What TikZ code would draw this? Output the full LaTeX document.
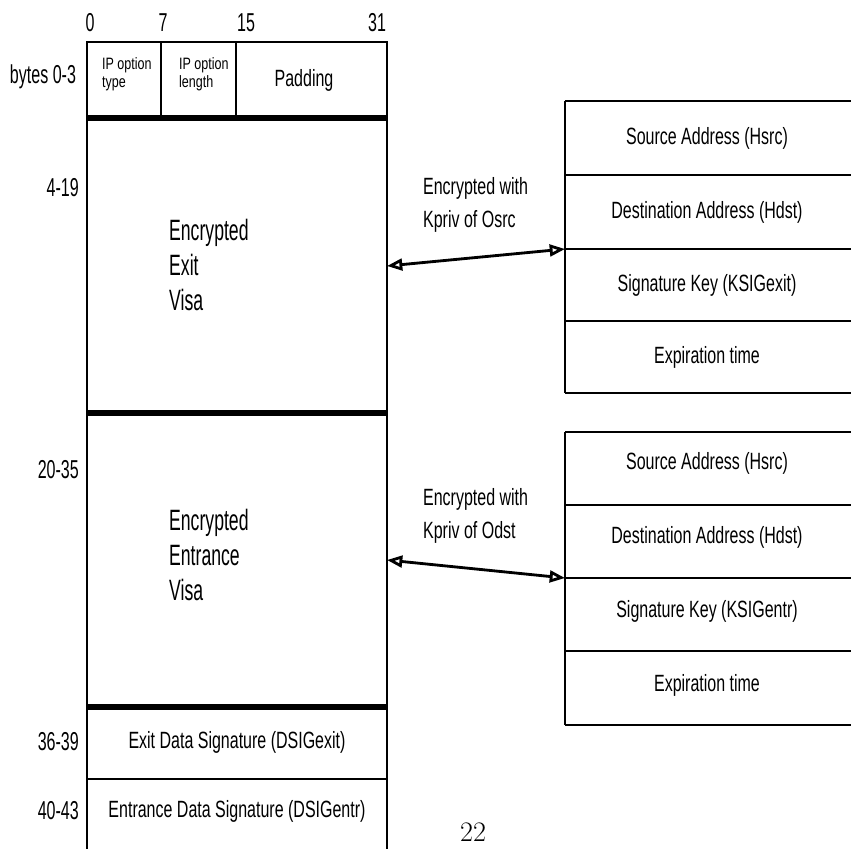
\documentclass[tikz,border=0pt]{standalone}
\usepackage{fontspec}
\newfontfamily\narrowsf{Liberation Sans}[FakeStretch=0.68]
\newfontfamily\narrowersf{Liberation Sans}[FakeStretch=0.6]
\newfontfamily\numsf{Liberation Sans}[FakeStretch=0.62]
\newfontfamily\smallsf{Liberation Sans}[FakeStretch=0.76]
\usetikzlibrary{arrows.meta}

\tikzset{
  thinline/.style={line width=1.3pt},
  midline/.style={line width=2.4pt},
  heavyline/.style={line width=5.5pt},
  lbl/.style={font=\narrowsf\fontsize{20}{24}\selectfont},
  numlbl/.style={font=\numsf\fontsize{22}{24}\selectfont},
  smalllbl/.style={font=\smallsf\fontsize{14}{15.5}\selectfont,align=left},
  biglbl/.style={font=\narrowersf\fontsize{25}{30}\selectfont,align=left},
  keylbl/.style={font=\narrowsf\fontsize{20}{28}\selectfont,align=left},
}

\begin{document}
\begin{tikzpicture}[x=0.85pt,y=-0.85pt,>={Triangle[open,length=13pt,width=10pt]}]
  \useasboundingbox (0,0) rectangle (851,849);

  % 左侧报文格式
  \coordinate (L0) at (87,42);
  \coordinate (R0) at (387,42);
  \coordinate (L1) at (87,118);
  \coordinate (R1) at (387,118);
  \coordinate (L2) at (87,413);
  \coordinate (R2) at (387,413);
  \coordinate (L3) at (87,707);
  \coordinate (R3) at (387,707);
  \coordinate (L4) at (87,779);
  \coordinate (R4) at (387,779);
  \coordinate (L5) at (87,849);
  \coordinate (R5) at (387,849);

  % 首行
  \draw[thinline] (L1) -- (L0) -- (R0) -- (R1);
  \draw[thinline] (161,42) -- (161,118);
  \draw[thinline] (236,42) -- (236,118);

  % 两个签证块
  \draw[midline] (L1) -- (L3);
  \draw[midline] (R1) -- (R3);
  \draw[heavyline] (L1) -- (R1);
  \draw[heavyline] (L2) -- (R2);
  \draw[heavyline] (L3) -- (R3);

  % 数据签名行
  \draw[thinline] (L3) -- (L5);
  \draw[thinline] (R3) -- (R5);
  \draw[midline] (L4) -- (R4);

  % 右侧签证内容
  \foreach \y in {101,175,249,321,393,432,505,578,651,725}
    \draw[midline] (565,\y) -- (860,\y);
  \draw[thinline] (565,101) -- (565,393);
  \draw[thinline] (565,432) -- (565,725);
  \coordinate (X1) at (565,249);
  \coordinate (X2) at (565,578);
  \coordinate (V1) at (387,266);
  \coordinate (V2) at (387,560);

  % 箭头
  \draw[midline,<->] (V1) -- (X1);
  \draw[midline,<->] (V2) -- (X2);

  % 位号
  \node[numlbl] (b0) at (90,23) {0};
  \node[numlbl] (b7) at (163,23) {7};
  \node[numlbl] (b15) at (246,23) {15};
  \node[numlbl] (b31) at (377,23) {31};

  % 行号
  \node[numlbl] (r0) at (43,77) {bytes 0-3};
  \node[numlbl,anchor=east] (r1) at (83,188) {4-19};
  \node[numlbl,anchor=east] (r2) at (83,470) {20-35};
  \node[numlbl,anchor=east] (r3) at (83,742) {36-39};
  \node[numlbl,anchor=east] (r4) at (83,811) {40-43};

  % 字段名
  \node[smalllbl,anchor=west] (opttype) at (98,74) {IP option\\type};
  \node[smalllbl,anchor=west] (optlen) at (175,74) {IP option\\length};
  \node[lbl] (pad) at (304,80) {Padding};
  \node[biglbl,anchor=west] (exitvisa) at (165,265) {Encrypted\\Exit\\Visa};
  \node[biglbl,anchor=west] (entrvisa) at (165,555) {Encrypted\\Entrance\\Visa};
  \node[lbl] (dexit) at (237,742) {Exit Data Signature (DSIGexit)};
  \node[lbl] (dentr) at (237,811) {Entrance Data Signature (DSIGentr)};

  \node[keylbl,anchor=west] (keyosrc) at (419,205) {Encrypted with\\Kpriv of Osrc};
  \node[keylbl,anchor=west] (keyodst) at (419,516) {Encrypted with\\Kpriv of Odst};

  \node[lbl] (srcA) at (707,138) {Source Address (Hsrc)};
  \node[lbl] (dstA) at (707,212) {Destination Address (Hdst)};
  \node[lbl] (sigA) at (707,285) {Signature Key (KSIGexit)};
  \node[lbl] (expA) at (707,357) {Expiration time};
  \node[lbl] (srcB) at (707,463) {Source Address (Hsrc)};
  \node[lbl] (dstB) at (707,537) {Destination Address (Hdst)};
  \node[lbl] (sigB) at (707,611) {Signature Key (KSIGentr)};
  \node[lbl] (expB) at (707,685) {Expiration time};

  % 页码
  \node[font=\fontsize{24}{28}\selectfont] (pg) at (473,832) {22};
\end{tikzpicture}
\end{document}
